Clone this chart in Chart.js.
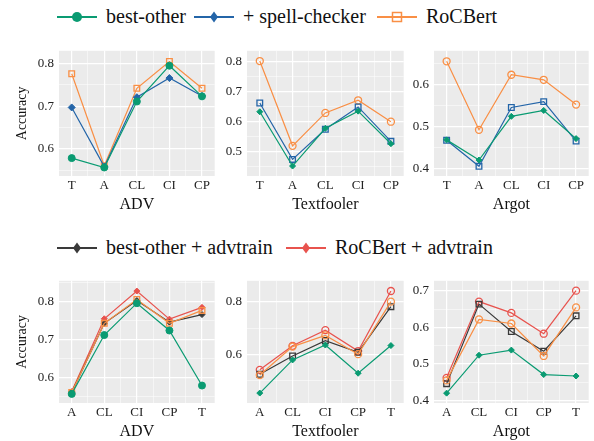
<!DOCTYPE html>
<html>
<head>
<meta charset="utf-8">
<script src="https://cdn.jsdelivr.net/npm/chart.js@4/dist/chart.umd.min.js"></script>
<style>
  body { margin: 0; width: 594px; height: 441px; background: #fff; position: relative; overflow: hidden; font-family: 'Liberation Serif', serif; }
  canvas { position: absolute; }
  .leg { position: absolute; font-size: 20px; line-height: 24px; color: #111; white-space: nowrap; }
  .sw { position: absolute; }
</style>
</head>
<body>
<div id="legends"></div>
<canvas id="p0" width="220" height="176" style="left:0px;top:38px"></canvas>
<canvas id="p1" width="187" height="176" style="left:222px;top:38px"></canvas>
<canvas id="p2" width="185" height="176" style="left:409px;top:38px"></canvas>
<canvas id="p3" width="220" height="173" style="left:0px;top:268px"></canvas>
<canvas id="p4" width="187" height="173" style="left:222px;top:268px"></canvas>
<canvas id="p5" width="185" height="173" style="left:409px;top:268px"></canvas>
<script>
const topCats = ['T', 'A', 'CL', 'CI', 'CP']
const bottomCats = ['A', 'CL', 'CI', 'CP', 'T']

// top row: T, A, CL, CI, CP
const advBestOther = [0.578, 0.556, 0.711, 0.795, 0.723]
const advSpell = [0.697, 0.558, 0.721, 0.766, 0.724]
const advRoc = [0.776, 0.560, 0.742, 0.805, 0.742]
const tfBestOther = [0.633, 0.453, 0.578, 0.635, 0.527]
const tfSpell = [0.662, 0.475, 0.575, 0.649, 0.535]
const tfRoc = [0.801, 0.520, 0.629, 0.671, 0.600]
const argBestOther = [0.468, 0.420, 0.524, 0.538, 0.471]
const argSpell = [0.467, 0.405, 0.545, 0.559, 0.465]
const argRoc = [0.655, 0.492, 0.623, 0.611, 0.552]

// bottom row: A, CL, CI, CP, T
const advBestOtherB = [0.556, 0.711, 0.795, 0.723, 0.578]
const advRocB = [0.560, 0.742, 0.805, 0.742, 0.776]
const advBestAdv = [0.560, 0.742, 0.802, 0.745, 0.765]
const advRocAdv = [0.562, 0.754, 0.827, 0.753, 0.784]
const tfBestOtherB = [0.451, 0.578, 0.635, 0.527, 0.633]
const tfRocB = [0.520, 0.629, 0.672, 0.600, 0.801]
const tfBestAdv = [0.523, 0.593, 0.652, 0.607, 0.782]
const tfRocAdv = [0.540, 0.632, 0.692, 0.612, 0.842]
const argBestOtherB = [0.420, 0.524, 0.538, 0.471, 0.467]
const argRocB = [0.455, 0.622, 0.611, 0.522, 0.655]
const argBestAdv = [0.446, 0.664, 0.589, 0.535, 0.632]
const argRocAdv = [0.462, 0.671, 0.640, 0.583, 0.701]

const GREEN = '#0a9b72'
const BLUE = '#2465a8'
const ORANGE = '#f98f45'
const BLACK = '#3a3a3a'
const RED = '#e8534e'

const topLegend = [
  { label: 'best-other', color: GREEN, shape: 'circle', x: 57 },
  { label: '+ spell-checker', color: BLUE, shape: 'diamond', x: 194 },
  { label: 'RoCBert', color: ORANGE, shape: 'square', x: 377 }
]
const bottomLegend = [
  { label: 'best-other + advtrain', color: BLACK, shape: 'diamond', x: 57 },
  { label: 'RoCBert + advtrain', color: RED, shape: 'diamond', x: 286 }
]

function swatch(item) {
  let m = ''
  if (item.shape === 'circle') m = `<circle cx="20" cy="7" r="5" fill="${item.color}"/>`
  if (item.shape === 'diamond') m = `<path d="M20 1.5 L24 7 L20 12.5 L16 7 Z" fill="${item.color}"/>`
  if (item.shape === 'square') m = `<rect x="15.5" y="2.5" width="9" height="9" fill="none" stroke="${item.color}" stroke-width="1.5"/>`
  return `<svg width="40" height="14"><line x1="0" y1="7" x2="40" y2="7" stroke="${item.color}" stroke-width="2"/>${m}</svg>`
}

function buildLegend(items, cy) {
  const box = document.getElementById('legends')
  items.forEach((item) => {
    const sw = document.createElement('div')
    sw.className = 'sw'
    sw.style.left = item.x + 'px'
    sw.style.top = (cy - 7) + 'px'
    sw.innerHTML = swatch(item)
    box.appendChild(sw)
    const t = document.createElement('div')
    t.className = 'leg'
    t.style.left = (item.x + 49) + 'px'
    t.style.top = (cy - 13) + 'px'
    t.textContent = item.label
    box.appendChild(t)
  })
}

buildLegend(topLegend, 17)
buildLegend(bottomLegend, 248)

const bgPlugin = {
  id: 'panelBg',
  beforeDraw(chart) {
    const { ctx, chartArea: a } = chart
    ctx.save()
    ctx.fillStyle = '#ebebeb'
    ctx.fillRect(a.left, a.top, a.right - a.left, a.bottom - a.top)
    ctx.restore()
  }
}

const isMultiple = (v, step) => Math.abs(v / step - Math.round(v / step)) < 1e-6

function series(values, color, style) {
  return {
    data: values.map((v, i) => ({ x: i, y: v })),
    borderColor: color,
    borderWidth: 1.2,
    pointStyle: style.shape,
    pointRadius: style.r,
    pointBackgroundColor: style.open ? 'rgba(0,0,0,0)' : color,
    pointBorderColor: color,
    pointBorderWidth: style.open ? 1.3 : 1,
    tension: 0
  }
}

const dot = { shape: 'circle', r: 3.5 }
const dia = { shape: 'rectRot', r: 3.5 }
const sq = { shape: 'rect', r: 4, open: true }
const ring = { shape: 'circle', r: 3.5, open: true }
const smallDia = { shape: 'rectRot', r: 3 }

const panels = [
  { id: 'p0', cats: topCats, title: 'ADV', yTitle: 'Accuracy', yw: 59, min: 0.536, max: 0.83, major: 0.1, minor: 0.05,
    sets: [series(advBestOther, GREEN, dot), series(advSpell, BLUE, dia), series(advRoc, ORANGE, sq)] },
  { id: 'p1', cats: topCats, title: 'Textfooler', yw: 25, min: 0.42, max: 0.835, major: 0.1, minor: 0.05,
    sets: [series(tfBestOther, GREEN, smallDia), series(tfSpell, BLUE, sq), series(tfRoc, ORANGE, ring)] },
  { id: 'p2', cats: topCats, title: 'Argot', yw: 25, min: 0.382, max: 0.68, major: 0.1, minor: 0.05,
    sets: [series(argBestOther, GREEN, smallDia), series(argSpell, BLUE, sq), series(argRoc, ORANGE, ring)] },
  { id: 'p3', cats: bottomCats, title: 'ADV', yTitle: 'Accuracy', yw: 59, min: 0.532, max: 0.854, major: 0.1, minor: 0.05,
    sets: [series(advBestOtherB, GREEN, dot), series(advRocB, ORANGE, sq), series(advBestAdv, BLACK, smallDia), series(advRocAdv, RED, smallDia)] },
  { id: 'p4', cats: bottomCats, title: 'Textfooler', yw: 25, min: 0.413, max: 0.881, major: 0.2, minor: 0.1,
    sets: [series(tfBestOtherB, GREEN, smallDia), series(tfRocB, ORANGE, ring), series(tfBestAdv, BLACK, sq), series(tfRocAdv, RED, ring)] },
  { id: 'p5', cats: bottomCats, title: 'Argot', yw: 25, min: 0.393, max: 0.728, major: 0.1, minor: 0.05,
    sets: [series(argBestOtherB, GREEN, smallDia), series(argRocB, ORANGE, ring), series(argBestAdv, BLACK, sq), series(argRocAdv, RED, ring)] }
]

const tickFont = { family: 'Liberation Serif', size: 13 }

panels.forEach((p) => {
  new Chart(document.getElementById(p.id), {
    type: 'line',
    data: { datasets: p.sets },
    plugins: [bgPlugin],
    options: {
      responsive: false,
      animation: false,
      layout: { padding: { top: 5, right: 2, left: 0, bottom: 0 } },
      plugins: { legend: { display: false }, tooltip: { enabled: false } },
      scales: {
        x: {
          type: 'linear',
          min: -0.39,
          max: 4.39,
          afterFit: (s) => { s.height = 38 },
          border: { display: false },
          grid: {
            drawTicks: false,
            color: '#ffffff',
            lineWidth: (c) => Number.isInteger(c.tick.value) ? 1.2 : 0.5
          },
          ticks: {
            stepSize: 0.5,
            includeBounds: false,
            autoSkip: false,
            maxRotation: 0,
            padding: 2,
            color: '#222',
            font: tickFont,
            callback: (v) => Number.isInteger(v) ? p.cats[v] : ''
          },
          title: {
            display: true,
            text: p.title,
            color: '#111',
            font: { family: 'Liberation Serif', size: 16 },
            padding: { top: 0, bottom: 0 }
          }
        },
        y: {
          min: p.min,
          max: p.max,
          afterFit: (s) => { s.width = p.yw },
          border: { display: false },
          grid: {
            drawTicks: false,
            color: '#ffffff',
            lineWidth: (c) => isMultiple(c.tick.value, p.major) ? 1.2 : 0.5
          },
          ticks: {
            stepSize: p.minor,
            includeBounds: false,
            autoSkip: false,
            padding: 5,
            color: '#222',
            font: tickFont,
            callback: (v) => isMultiple(v, p.major) ? v.toFixed(1) : ''
          },
          title: {
            display: !!p.yTitle,
            text: p.yTitle || '',
            color: '#111',
            font: { family: 'Liberation Serif', size: 14 },
            padding: { top: 13.6, bottom: 0 }
          }
        }
      }
    }
  })
})
</script>
</body>
</html>
